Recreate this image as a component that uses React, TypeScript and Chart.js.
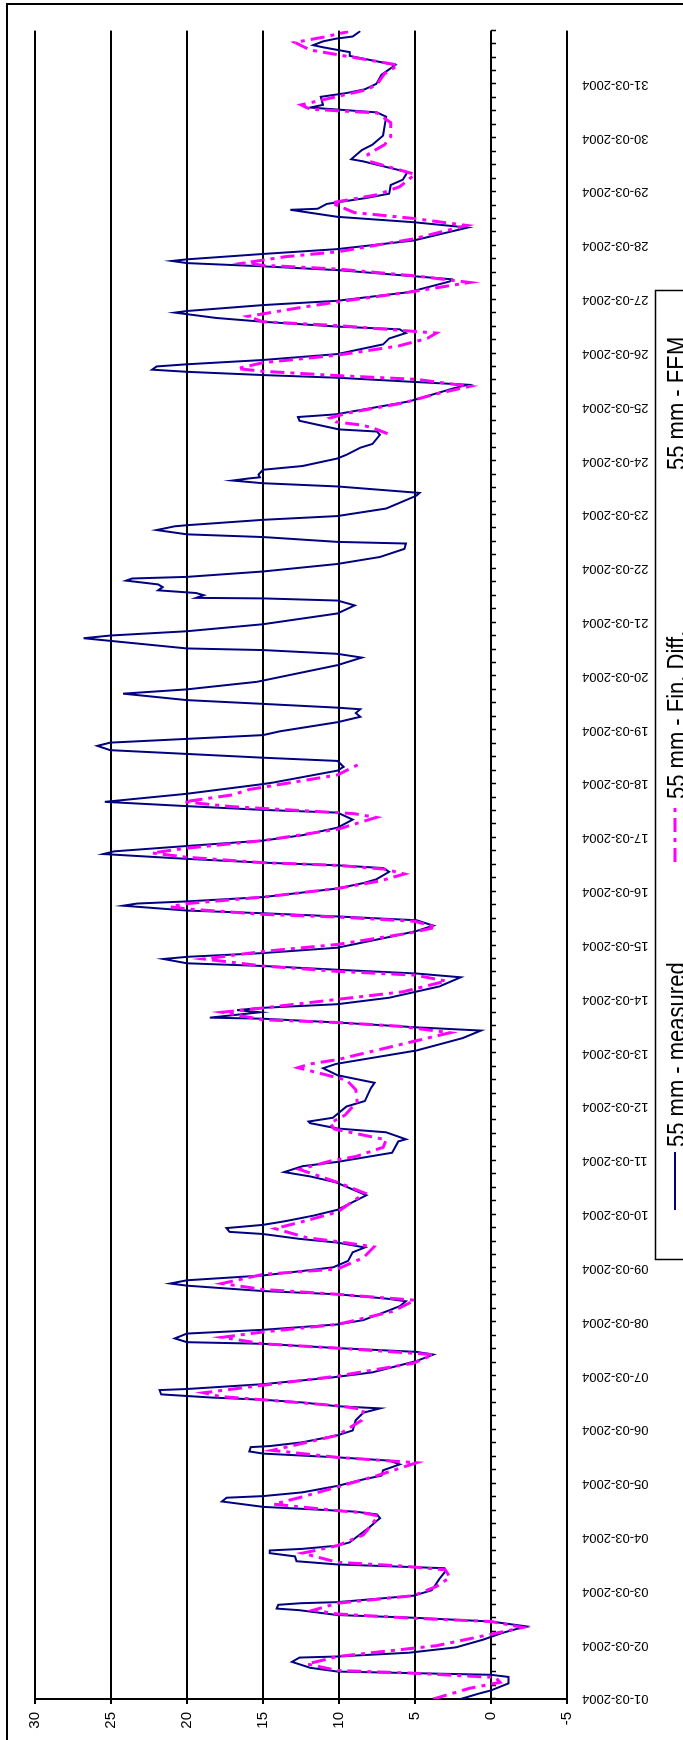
import React, { useEffect, useRef } from 'react';
import { Chart, registerables } from 'chart.js';

Chart.register(...registerables);

// ---------- data ----------
const dateLabels = [
  '01-03-2004', '02-03-2004', '03-03-2004', '04-03-2004', '05-03-2004', '06-03-2004',
  '07-03-2004', '08-03-2004', '09-03-2004', '10-03-2004', '11-03-2004', '12-03-2004',
  '13-03-2004', '14-03-2004', '15-03-2004', '16-03-2004', '17-03-2004', '18-03-2004',
  '19-03-2004', '20-03-2004', '21-03-2004', '22-03-2004', '23-03-2004', '24-03-2004',
  '25-03-2004', '26-03-2004', '27-03-2004', '28-03-2004', '29-03-2004', '30-03-2004',
  '31-03-2004',
];

const seriesNames = ['55 mm - measured', '55 mm - Fin. Diff.', '55 mm - FEM'];

// time in days after 01-03-2004 00:00
const measuredT = [
  0.00, 0.10, 0.16, 0.29, 0.41, 0.45, 0.51, 0.58, 0.69, 0.77, 0.79, 0.86, 0.96, 1.10, 1.23, 1.35,
  1.44, 1.51, 1.56, 1.65, 1.68, 1.75, 1.78, 1.80, 1.92, 2.02, 2.23, 2.37, 2.43, 2.50, 2.56, 2.65,
  2.71, 2.76, 2.79, 2.85, 2.91, 3.19, 3.29, 3.36, 3.43, 3.48, 3.50, 3.57, 3.67, 3.74, 3.77, 3.84,
  3.96, 4.08, 4.15, 4.25, 4.36, 4.43, 4.49, 4.56, 4.60, 4.68, 4.70, 4.77, 4.90, 4.99, 5.18, 5.32,
  5.40, 5.44, 5.51, 5.56, 5.60, 5.66, 5.74, 5.76, 5.85, 5.97, 6.04, 6.07, 6.28, 6.40, 6.45, 6.52,
  6.60, 6.63, 6.70, 6.79, 6.86, 6.96, 7.04, 7.20, 7.30, 7.39, 7.44, 7.52, 7.58, 7.68, 7.72, 7.78,
  7.87, 7.94, 8.02, 8.14, 8.30, 8.39, 8.48, 8.55, 8.64, 8.68, 8.75, 8.81, 8.88, 8.98, 9.09, 9.36,
  9.60, 9.71, 9.79, 9.90, 9.98, 10.15, 10.36, 10.40, 10.53, 10.60, 10.70, 10.73, 10.80, 11.01, 11.11, 11.35,
  11.45, 11.59, 11.72, 11.80, 12.05, 12.28, 12.42, 12.48, 12.57, 12.64, 12.66, 12.76, 12.80, 12.84, 12.91, 13.03,
  13.24, 13.41, 13.48, 13.55, 13.62, 13.67, 13.75, 13.79, 13.86, 13.96, 14.17, 14.27, 14.37, 14.47, 14.54, 14.60,
  14.65, 14.74, 14.78, 14.82, 14.90, 15.06, 15.16, 15.23, 15.37, 15.44, 15.49, 15.54, 15.61, 15.70, 15.75, 15.85,
  15.95, 16.05, 16.19, 16.34, 16.47, 16.52, 16.59, 16.67, 16.82, 17.00, 17.03, 17.25, 17.32, 17.43, 17.49, 17.56,
  17.63, 17.71, 17.77, 17.84, 17.91, 17.98, 18.15, 18.25, 18.32, 18.39, 18.42, 18.49, 18.56, 18.68, 18.76, 18.90,
  19.21, 19.35, 19.42, 19.49, 19.52, 19.71, 19.76, 19.84, 19.97, 20.17, 20.32, 20.41, 20.45, 20.46, 20.51, 20.55,
  20.60, 20.66, 20.71, 20.78, 20.82, 20.85, 20.95, 21.09, 21.22, 21.37, 21.47, 21.50, 21.59, 21.64, 21.72, 21.79,
  21.81, 21.91, 21.98, 22.12, 22.36, 22.41, 22.53, 22.59, 22.64, 22.68, 22.70, 22.75, 22.84, 22.91, 23.05, 23.12,
  23.25, 23.32, 23.49, 23.55, 23.59, 23.75, 23.82, 23.87, 24.11, 24.35, 24.42, 24.47, 24.55, 24.60, 24.66, 24.70,
  24.76, 24.80, 24.88, 24.99, 25.17, 25.28, 25.38, 25.45, 25.50, 25.59, 25.66, 25.76, 25.79, 25.90, 25.98, 26.14,
  26.34, 26.38, 26.55, 26.62, 26.68, 26.72, 26.75, 26.85, 26.94, 27.10, 27.34, 27.44, 27.54, 27.67, 27.69, 27.78,
  27.89, 27.97, 28.13, 28.23, 28.37, 28.57, 28.61, 28.78, 28.88, 29.05, 29.40, 29.48, 29.57, 29.62, 29.77, 29.84,
  29.91, 30.01, 30.18, 30.36, 30.53, 30.60, 30.69, 30.73, 30.80, 30.85, 30.89, 30.99,
];
const measuredV = [
  2.0, 0.8, 0.0, -1.15, -1.15, 0.0, 10.1, 11.9, 13.1, 12.6, 10.1, 5.4, 2.3, 0.55, -0.77, -2.3,
  0.0, 5.1, 10.1, 12.6, 14.1, 14.0, 12.5, 10.1, 5.1, 3.9, 3.4, 3.0, 3.06, 10.1, 12.8, 12.9,
  14.55, 14.55, 12.4, 10.1, 9.3, 8.0, 7.6, 7.3, 7.5, 8.9, 10.1, 15.0, 17.7, 17.4, 15.0, 12.4,
  10.1, 8.4, 7.2, 7.1, 6.0, 6.7, 10.1, 15.0, 15.9, 15.8, 14.55, 12.4, 10.1, 9.1, 8.9, 8.4,
  7.3, 10.1, 12.4, 15.0, 18.3, 21.7, 21.8, 20.0, 15.0, 10.6, 8.6, 7.8, 4.9, 3.8, 4.9, 10.1,
  15.0, 20.0, 20.8, 20.0, 15.0, 10.1, 8.4, 6.9, 6.0, 5.6, 6.9, 10.1, 15.0, 20.0, 21.1, 20.0,
  15.0, 12.8, 10.4, 9.4, 9.1, 8.3, 10.1, 12.6, 15.0, 17.2, 17.4, 15.0, 13.5, 11.7, 10.1, 8.2,
  10.2, 11.9, 13.6, 12.4, 10.1, 6.5, 6.1, 5.6, 6.9, 10.1, 11.9, 12.0, 10.4, 9.5, 8.3, 7.9,
  7.66, 10.1, 11.05, 10.2, 4.9, 1.86, 0.66, 4.9, 10.1, 15.0, 18.5, 15.2, 16.7, 15.2, 10.1, 6.7,
  3.4, 2.0, 4.9, 10.1, 15.0, 20.0, 21.55, 20.0, 15.0, 10.1, 6.5, 4.9, 3.8, 4.9, 10.1, 15.0,
  20.0, 24.2, 23.3, 20.0, 15.0, 10.1, 8.4, 7.55, 6.7, 7.1, 10.1, 15.0, 20.0, 25.5, 24.8, 20.0,
  15.0, 12.4, 10.1, 9.1, 10.1, 15.0, 20.0, 25.4, 20.0, 15.0, 14.3, 10.1, 9.7, 10.1, 15.0, 20.0,
  25.05, 25.9, 25.05, 20.0, 15.0, 13.9, 10.1, 8.6, 8.9, 8.6, 10.1, 15.0, 20.0, 24.2, 20.0, 15.4,
  10.1, 8.5, 10.1, 15.0, 20.0, 26.8, 25.05, 20.0, 15.0, 10.1, 8.97, 10.1, 15.0, 19.4, 18.9, 19.4,
  21.9, 21.6, 21.9, 24.0, 23.6, 20.0, 15.0, 10.1, 7.3, 5.7, 5.6, 10.1, 15.0, 20.0, 22.0, 20.8,
  20.0, 15.0, 10.1, 6.9, 4.9, 4.7, 10.1, 15.0, 17.0, 15.9, 15.2, 15.3, 15.0, 12.4, 10.1, 9.5,
  8.6, 7.8, 7.3, 7.5, 10.0, 12.6, 12.7, 10.2, 5.4, 2.5, 1.53, 4.9, 10.1, 15.0, 20.0, 22.3,
  22.0, 20.0, 15.0, 10.1, 7.1, 6.7, 5.6, 6.0, 10.1, 15.0, 18.05, 20.8, 20.0, 15.0, 10.1, 5.4,
  2.7, 2.6, 10.1, 15.0, 20.0, 21.0, 20.0, 15.0, 10.1, 5.1, 1.53, 5.1, 10.1, 13.2, 11.4, 10.8,
  8.2, 6.7, 6.6, 5.8, 5.5, 8.4, 9.2, 8.5, 7.8, 7.1, 6.9, 7.5, 11.9, 11.05, 11.2, 9.5,
  8.3, 7.55, 7.2, 6.3, 9.3, 9.3, 11.05, 11.7, 11.05, 10.2, 9.1, 8.6,
];

const finDiffT = [
  0.00, 0.20, 0.31, 0.40, 0.48, 0.53, 0.65, 0.79, 0.99, 1.17, 1.33, 1.44, 1.50, 1.58, 1.65, 1.78,
  1.92, 2.09, 2.26, 2.40, 2.47, 2.54, 2.71, 2.85, 3.05, 3.40, 3.46, 3.50, 3.62, 3.75, 3.94, 4.15,
  4.39, 4.49, 4.62, 4.90, 5.18, 5.38, 5.45, 5.56, 5.62, 5.69, 5.83, 6.00, 6.24, 6.40, 6.52, 6.60,
  6.72, 6.82, 6.96, 7.20, 7.41, 7.52, 7.61, 7.72, 7.89, 7.99, 8.20, 8.40, 8.50, 8.57, 8.74, 8.90,
  9.05, 9.40, 9.60, 9.84, 10.00, 10.08, 10.25, 10.39, 10.59, 10.70, 10.85, 11.10, 11.32, 11.50, 11.73, 11.80,
  11.88, 12.07, 12.38, 12.50, 12.57, 12.62, 12.76, 12.84, 13.00, 13.14, 13.34, 13.45, 13.52, 13.62, 13.75, 13.89,
  14.02, 14.23, 14.34, 14.45, 14.53, 14.58, 14.68, 14.72, 14.78, 14.90, 15.06, 15.20, 15.33, 15.42, 15.49, 15.54,
  15.64, 15.72, 15.81, 15.95, 16.16, 16.38, 16.45, 16.50, 16.58, 16.67, 16.80, 16.90, 17.17, 17.36, 17.41, 20.00,
  23.51, 23.62, 23.67, 23.73, 23.80, 23.89, 24.08, 24.25, 24.39, 24.52, 24.59, 24.67, 24.72, 24.83, 24.97, 25.14,
  25.28, 25.38, 25.52, 25.59, 25.69, 25.86, 25.96, 26.14, 26.32, 26.44, 26.57, 26.64, 26.68, 26.80, 26.89, 27.13,
  27.38, 27.51, 27.62, 27.80, 27.95, 28.10, 28.33, 28.57, 28.70, 28.88, 29.03, 29.29, 29.47, 29.54, 29.62, 29.75,
  29.90, 30.00, 30.20, 30.36, 30.50, 30.64, 30.78, 30.88, 30.98,
];
const finDiffV: (number | null)[] = [
  3.8, 1.4, -0.6, -0.3, 5.1, 10.1, 12.1, 10.1, 3.6, 0.55, -2.1, 0.0, 5.1, 10.1, 11.7, 10.1,
  5.1, 3.6, 2.7, 3.0, 5.8, 10.1, 12.4, 10.1, 8.4, 7.4, 8.4, 10.1, 14.3, 12.5, 10.1, 7.5,
  4.9, 10.1, 14.4, 10.1, 8.5, 8.4, 10.1, 15.0, 17.8, 18.9, 15.0, 10.1, 5.1, 3.8, 10.1, 15.0,
  17.7, 15.0, 10.1, 6.5, 5.0, 10.1, 15.0, 17.7, 15.0, 10.1, 8.4, 7.7, 10.1, 12.1, 14.2, 12.0,
  10.1, 8.3, 10.1, 12.6, 10.5, 8.9, 7.1, 6.9, 10.3, 10.6, 9.6, 8.8, 8.9, 9.5, 12.7, 11.9,
  10.1, 7.3, 2.7, 6.0, 10.1, 15.0, 17.7, 15.0, 10.1, 5.8, 2.95, 5.0, 10.1, 15.0, 18.9, 15.0,
  10.1, 5.4, 3.6, 5.0, 10.1, 15.0, 20.0, 21.1, 20.0, 15.0, 10.1, 7.3, 5.7, 7.0, 10.1, 15.0,
  20.0, 22.3, 20.0, 15.0, 10.1, 7.55, 9.0, 12.0, 17.0, 20.2, 17.0, 15.9, 10.1, 8.75, 9.0, null,
  6.8, 7.8, 8.5, 10.2, 10.6, 9.5, 5.8, 3.6, 1.4, 4.9, 10.1, 15.0, 16.7, 15.0, 10.1, 6.1,
  4.2, 3.6, 10.1, 15.0, 16.0, 12.4, 10.1, 5.4, 1.4, 4.9, 10.1, 15.0, 16.3, 13.5, 10.1, 5.1,
  1.6, 5.1, 9.0, 10.5, 7.5, 6.0, 5.0, 8.0, 8.1, 7.0, 6.6, 6.6, 7.5, 11.9, 12.5, 10.5,
  8.2, 7.5, 7.0, 6.1, 9.0, 11.9, 12.9, 11.0, 9.4,
];

// FEM series: no visible values in the reference
const femT: number[] = [];
const femV: number[] = [];

// ---------- layout (canvas is drawn landscape, then turned a quarter turn) ----------
const CW = 1740;
const CH = 683;
const FONT = '"Liberation Sans", Arial, Helvetica, sans-serif';

const pageDecor = {
  id: 'pageDecor',
  beforeDraw(chart: any) {
    const ctx = chart.ctx;
    ctx.save();
    ctx.fillStyle = '#ffffff';
    ctx.fillRect(0, 0, chart.width, chart.height);
    ctx.restore();
  },
  beforeDatasetsDraw(chart: any) {
    const ctx = chart.ctx;
    const xs = chart.scales.x;
    const ys = chart.scales.y;
    const y0 = Math.round(ys.getPixelForValue(0));
    ctx.save();
    ctx.strokeStyle = '#000';
    ctx.lineWidth = 1.5;
    ctx.beginPath();
    for (let q = 0; q <= 31 * 4; q++) {
      const px = Math.round(xs.getPixelForValue(q / 4)) + 0.5;
      ctx.moveTo(px, y0);
      ctx.lineTo(px, y0 + 5);
    }
    ctx.stroke();
    ctx.restore();
  },
  afterDraw(chart: any) {
    const ctx = chart.ctx;
    ctx.save();
    // outer frame
    ctx.strokeStyle = '#000';
    ctx.lineWidth = 2;
    ctx.strokeRect(-20, 7, 1756, 720);

    // legend box
    ctx.lineWidth = 1.5;
    ctx.strokeRect(480.5, 655.5, 969, 80);

    const starts = [530, 878, 1207];
    const sampleLen = 58;
    const lineY = 675;
    chart.data.datasets.forEach((ds: any, i: number) => {
      const sx = starts[i];
      ctx.save();
      ctx.strokeStyle = ds.borderColor;
      ctx.lineWidth = ds.borderWidth;
      ctx.setLineDash(ds.borderDash || []);
      ctx.beginPath();
      ctx.moveTo(sx, lineY);
      ctx.lineTo(sx + sampleLen, lineY);
      ctx.stroke();
      ctx.restore();

      ctx.save();
      ctx.fillStyle = '#000';
      ctx.font = `25px ${FONT}`;
      ctx.textBaseline = 'alphabetic';
      ctx.translate(sx + sampleLen + 5, 685);
      ctx.scale(0.88, 1);
      ctx.fillText(ds.label, 0, 0);
      ctx.restore();
    });
    ctx.restore();
  },
};

export default function App() {
  const canvasRef = useRef<HTMLCanvasElement | null>(null);

  useEffect(() => {
    if (!canvasRef.current) return;
    Chart.defaults.font.family = FONT;
    const measured = measuredT.map((t, i) => ({ x: t, y: measuredV[i] }));
    const finDiff = finDiffT.map((t, i) => ({ x: t, y: finDiffV[i] }));
    const fem = femT.map((t, i) => ({ x: t, y: femV[i] }));

    const chart = new Chart(canvasRef.current, {
      type: 'line',
      data: {
        datasets: [
          {
            label: seriesNames[0],
            data: measured,
            borderColor: '#000080',
            backgroundColor: '#000080',
            borderWidth: 2,
            pointRadius: 0,
            tension: 0,
            order: 1,
          },
          {
            label: seriesNames[1],
            data: finDiff as any,
            borderColor: '#ff00ff',
            backgroundColor: '#ff00ff',
            borderWidth: 3,
            borderDash: [14, 6, 4, 6],
            pointRadius: 0,
            tension: 0,
            spanGaps: false,
            order: 0,
          },
          {
            label: seriesNames[2],
            data: fem,
            borderColor: 'rgba(0,0,0,0)',
            backgroundColor: 'rgba(0,0,0,0)',
            borderWidth: 2,
            pointRadius: 0,
            order: 2,
          },
        ],
      },
      options: {
        animation: false,
        responsive: false,
        devicePixelRatio: 1,
        events: [],
        layout: { padding: { left: 0, right: 14, top: 35, bottom: 0 } },
        plugins: {
          legend: { display: false },
          tooltip: { enabled: false },
          title: { display: false },
        },
        scales: {
          x: {
            type: 'linear',
            min: 0,
            max: 31,
            grid: { display: false, drawTicks: false },
            border: { display: false },
            ticks: {
              stepSize: 1,
              autoSkip: false,
              maxRotation: 90,
              minRotation: 90,
              padding: 15,
              color: '#000',
              font: { size: 13, family: FONT },
              callback: (v: any) => dateLabels[Math.round(Number(v))] ?? '',
            },
            afterFit: (s: any) => {
              s.height = 116;
            },
          },
          y: {
            type: 'linear',
            min: -5,
            max: 30,
            grid: { color: '#000', lineWidth: 2, tickLength: 5, drawTicks: true },
            border: { display: true, color: '#000', width: 2 },
            ticks: {
              stepSize: 5,
              padding: 8,
              color: '#000',
              font: { size: 15, family: FONT },
            },
            afterFit: (s: any) => {
              s.width = 41;
            },
          },
        },
      },
      plugins: [pageDecor],
    });
    return () => chart.destroy();
  }, []);

  return (
    <div
      style={{
        position: 'absolute',
        left: 0,
        top: 0,
        width: CH,
        height: CW,
        overflow: 'hidden',
        background: '#fff',
      }}
    >
      <canvas
        ref={canvasRef}
        width={CW}
        height={CH}
        style={{
          position: 'absolute',
          left: 0,
          top: 0,
          width: CW,
          height: CH,
          transformOrigin: '0 0',
          transform: `translate(0px, ${CW}px) rotate(-90deg)`,
        }}
      />
    </div>
  );
}
